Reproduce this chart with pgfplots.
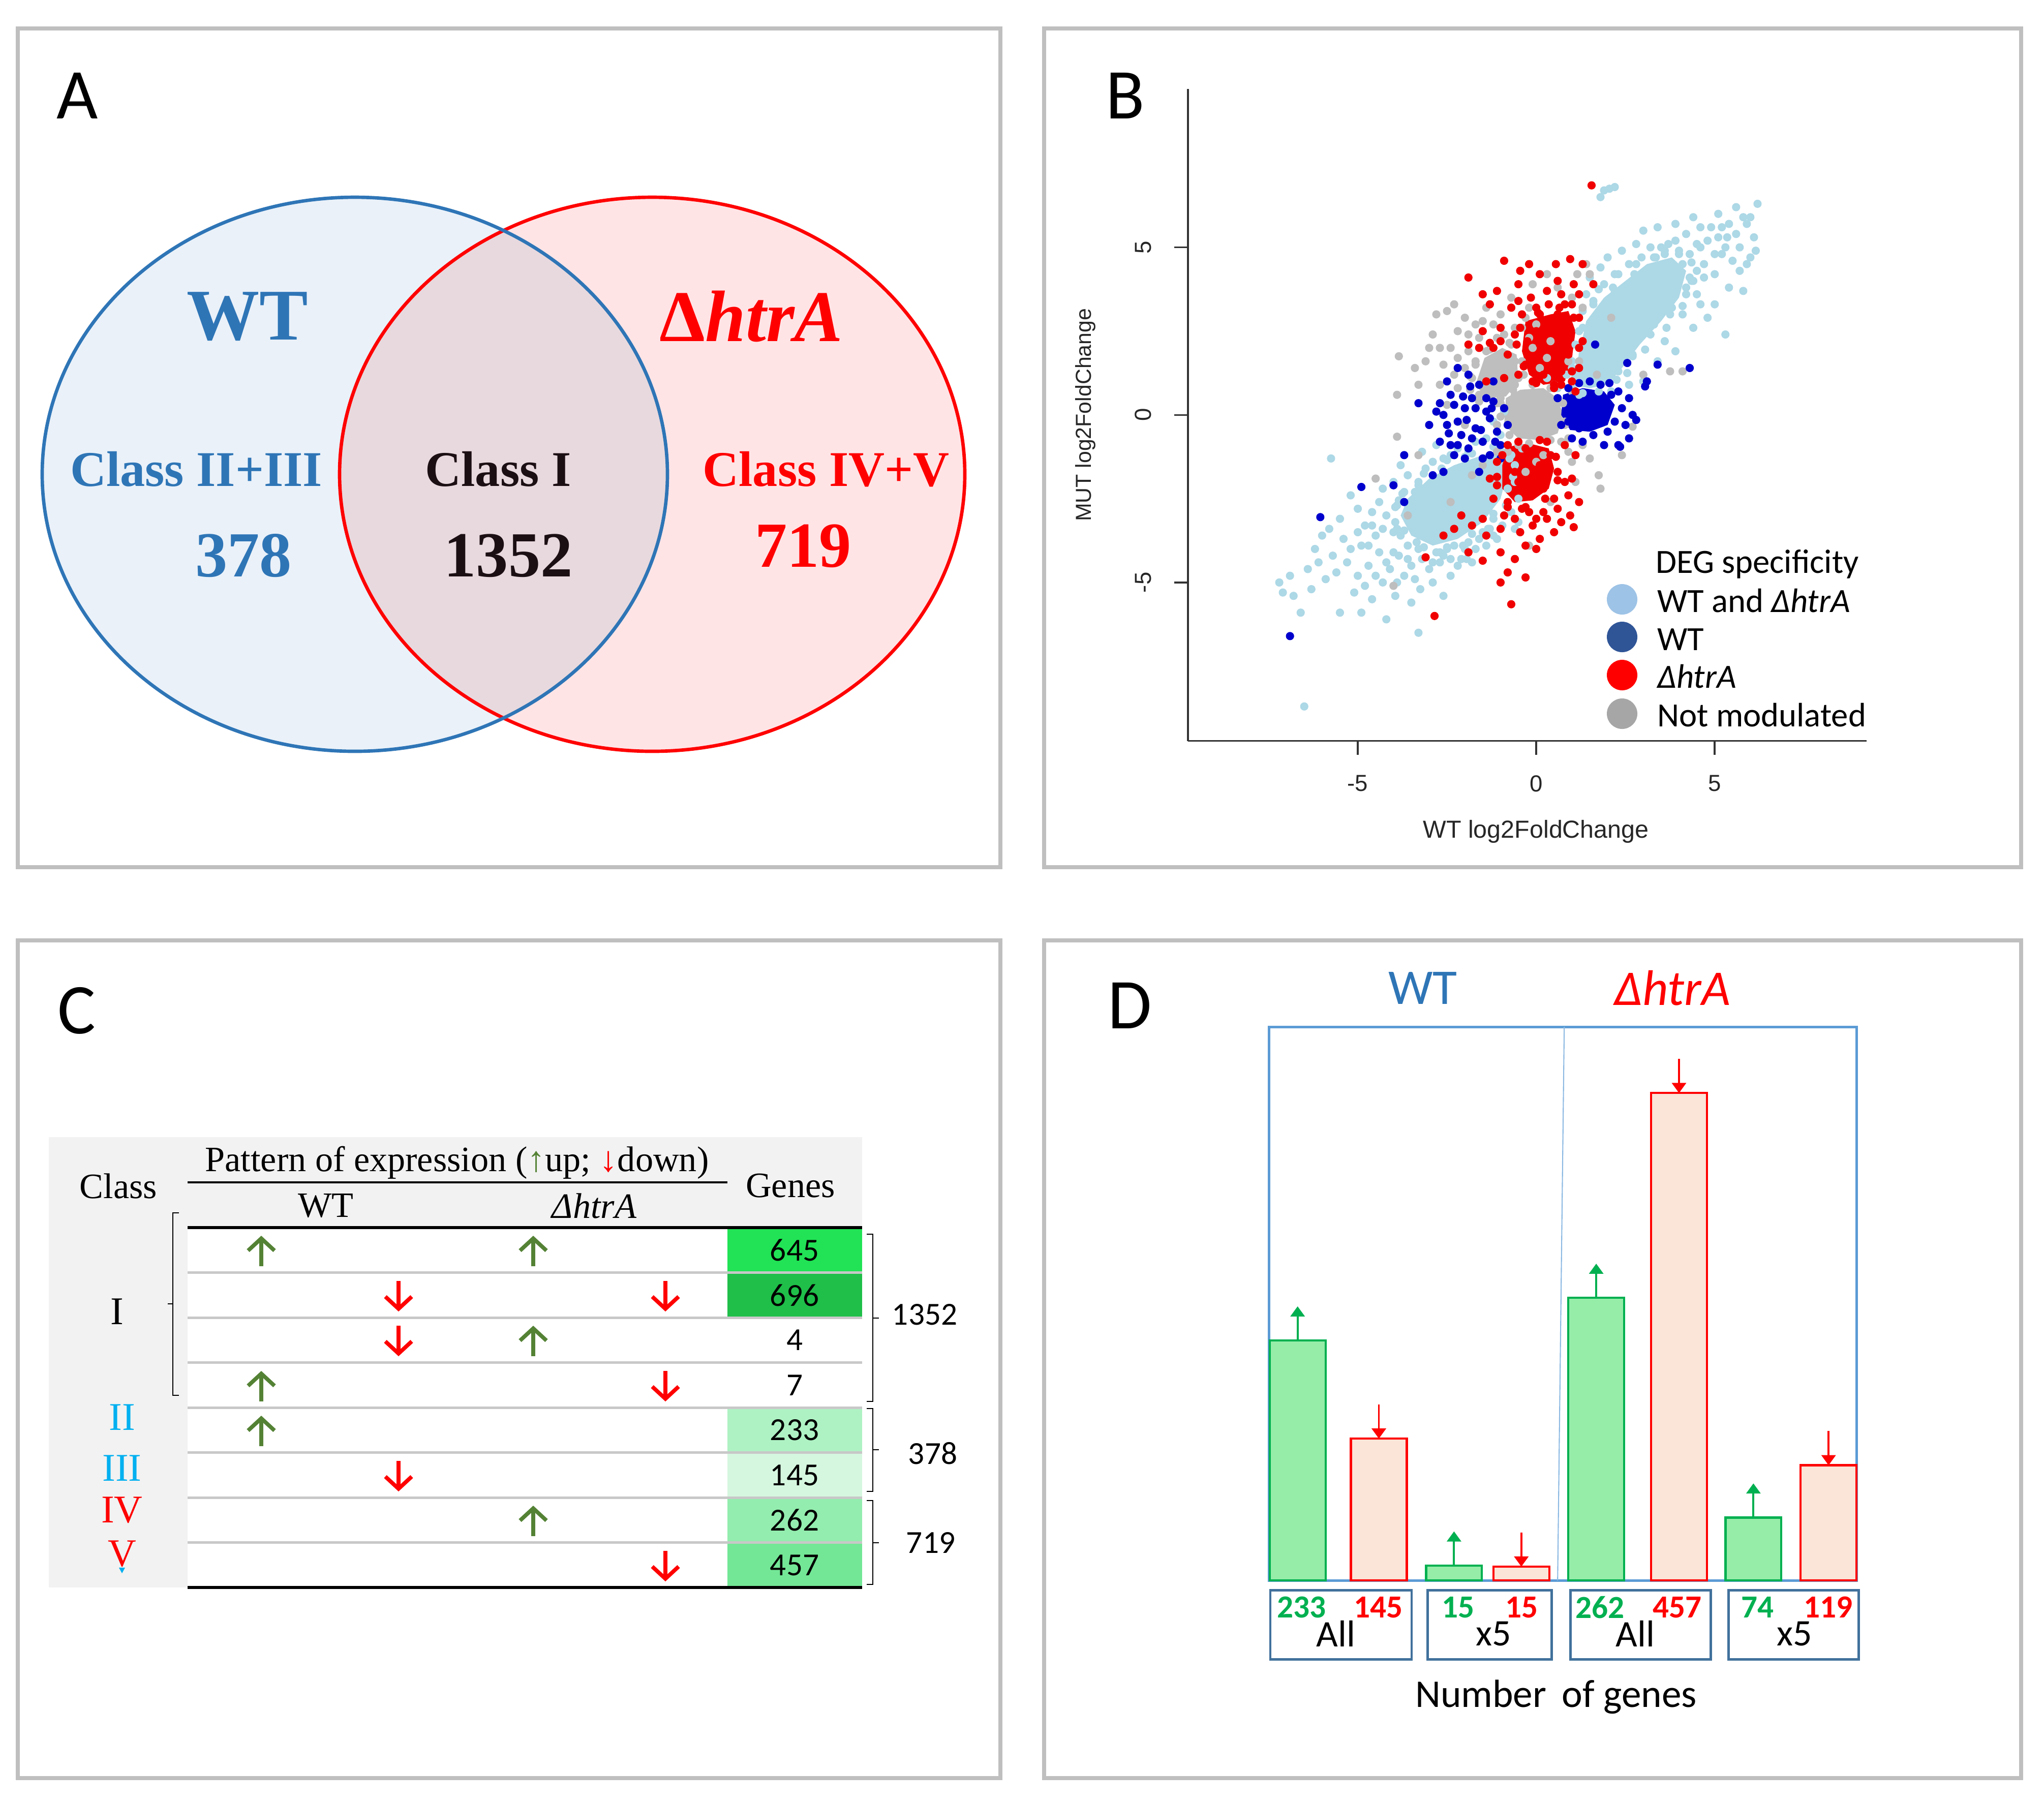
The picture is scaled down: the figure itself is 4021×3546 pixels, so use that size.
\documentclass[border=0pt]{standalone}
\usepackage{fontspec}
\setmainfont{Carlito}
\newfontfamily\timesf{Liberation Serif}
\newfontfamily\arialf{Liberation Sans}
\usepackage{pgfplots}
\pgfplotsset{compat=1.18}
\usetikzlibrary{arrows.meta}
\newcommand\fs[1]{\fontsize{#1pt}{#1pt}\selectfont}

\definecolor{frame}{HTML}{BFBFBF}
\definecolor{vblue}{HTML}{2E75B6}
\definecolor{vbluefill}{HTML}{EAF1F9}
\definecolor{vpinkfill}{HTML}{FFE4E6}
\definecolor{vmix}{HTML}{E8D9DE}
\definecolor{vdark}{HTML}{1C0F14}
\definecolor{hdr}{HTML}{F2F2F2}
\definecolor{sep}{HTML}{C8C8C8}
\definecolor{upg}{HTML}{548235}
\definecolor{cls}{HTML}{00B0F0}
\definecolor{gA}{HTML}{21E355}
\definecolor{gB}{HTML}{1FBF49}
\definecolor{gC}{HTML}{AEF2C3}
\definecolor{gD}{HTML}{D5F7DF}
\definecolor{gE}{HTML}{93EDAE}
\definecolor{gF}{HTML}{73E796}
\definecolor{barg}{HTML}{95EDA8}
\definecolor{bargl}{HTML}{00B050}
\definecolor{barr}{HTML}{FBE4D8}
\definecolor{dframe}{HTML}{5B9BD5}
\definecolor{dbox}{HTML}{41719C}
\definecolor{lb}{HTML}{ADD8E6}
\definecolor{mb}{HTML}{0000CD}
\definecolor{gy}{HTML}{BEBEBE}
\definecolor{rd}{HTML}{F00000}
\definecolor{lgA}{HTML}{9DC3E6}
\definecolor{lgB}{HTML}{2F5597}
\definecolor{lgD}{HTML}{A6A6A6}

\begin{document}
\begin{tikzpicture}[x=0.005cm,y=-0.005cm]
\path[use as bounding box] (0,0) rectangle (4021,3546);

% panel frames
\draw[frame, line width=1.15pt] (35,56) rectangle (1968,1706);
\draw[frame, line width=1.15pt] (2054,56) rectangle (3976,1706);
\draw[frame, line width=1.15pt] (35,1850) rectangle (1968,3498);
\draw[frame, line width=1.15pt] (2054,1850) rectangle (3976,3498);
\node[font=\fs{20}] at (152,188) {A};
\node[font=\fs{20}] at (2214,188) {B};
\node[font=\fs{20}] at (151,1988) {C};
\node[font=\fs{20}] at (2223,1978) {D};

% ---------------- A: Venn
\fill[vbluefill] (698,933) ellipse [x radius=615, y radius=545];
\fill[vpinkfill] (1283,933) ellipse [x radius=615, y radius=545];
\begin{scope}
  \clip (698,933) ellipse [x radius=615, y radius=545];
  \fill[vmix] (1283,933) ellipse [x radius=615, y radius=545];
\end{scope}
\draw[red, line width=0.95pt] (1283,933) ellipse [x radius=615, y radius=545];
\draw[vblue, line width=0.95pt] (698,933) ellipse [x radius=615, y radius=545];
\node[vblue, font=\timesf\bfseries\fs{20.4}] at (487,623) {WT};
\node[red, font=\timesf\bfseries\fs{20.4}] at (1478,622) {Δ\itshape htrA};
\node[vblue, font=\timesf\bfseries\fs{14}] at (386,923) {Class II+III};
\node[vblue, font=\timesf\bfseries\fs{18}] at (479,1093) {378};
\node[vdark, font=\timesf\bfseries\fs{14}] at (980,923) {Class I};
\node[vdark, font=\timesf\bfseries\fs{18}] at (1000,1093) {1352};
\node[red, font=\timesf\bfseries\fs{14}] at (1625,923) {Class IV+V};
\node[red, font=\timesf\bfseries\fs{18}] at (1580,1074) {719};

% ---------------- C: table
\fill[hdr] (96,2237) rectangle (1696,2415);
\fill[hdr] (96,2415) rectangle (369,3123);
\fill[gA] (1431,2415) rectangle (1696,2503.5);
\fill[gB] (1431,2503.5) rectangle (1696,2592);
\fill[gC] (1431,2769) rectangle (1696,2857.5);
\fill[gD] (1431,2857.5) rectangle (1696,2946);
\fill[gE] (1431,2946) rectangle (1696,3034.5);
\fill[gF] (1431,3034.5) rectangle (1696,3123);
\foreach \yy in {2503.5,2592,2680.5,2769,2857.5,2946,3034.5}
  \draw[sep, line width=0.7pt] (369,\yy) -- (1696,\yy);
\draw[line width=0.85pt] (369,2415) -- (1696,2415);
\draw[line width=0.85pt] (369,3123) -- (1696,3123);
\draw[line width=0.45pt] (369,2326) -- (1431,2326);
\node[font=\timesf\fs{10}] at (233,2333) {Class};
\node[font=\timesf\fs{10}] at (899,2287) {Pattern of expression ({\color{upg}↑}up; {\color{red}↓}down)};
\node[font=\timesf\fs{10}] at (641,2372) {WT};
\node[font=\timesf\itshape\fs{10}] at (1169,2372) {ΔhtrA};
\node[font=\timesf\fs{10}] at (1555,2333) {Genes};
\tikzset{upar/.style={upg, line width=1.1pt, -{Straight Barb[length=0.12cm, width=0.26cm]}},
         dnar/.style={red, line width=1.1pt, -{Straight Barb[length=0.12cm, width=0.26cm]}}}
\newcommand\up[2]{\draw[upar] (#1,#2+30) -- (#1,#2-30);}
\newcommand\dn[2]{\draw[dnar] (#1,#2-30) -- (#1,#2+30);}
\up{514}{2461}\up{1049}{2461}
\dn{784}{2550}\dn{1309}{2550}
\dn{784}{2638}\up{1049}{2638}
\up{514}{2727}\dn{1309}{2727}
\up{514}{2815}
\dn{784}{2904}
\up{1049}{2992}
\dn{1309}{3081}
\foreach \v/\yy in {645/2459,696/2548,4/2636,7/2725,233/2813,145/2902,262/2990,457/3079}
  \node[font=\fs{9}] at (1563,\yy) {\v};
\node[font=\timesf\fs{11}] at (230,2580) {I};
\node[cls, font=\timesf\fs{11}] at (240,2788) {II};
\node[cls, font=\timesf\fs{11}] at (240,2888) {III};
\node[red, font=\timesf\fs{11}] at (240,2971) {IV};
\node[red, font=\timesf\fs{11}] at (240,3057) {V};
\fill[cls] (234,3084) -- (246,3084) -- (240,3095) -- cycle;
\draw[line width=0.4pt] (352,2386) -- (340,2386) -- (340,2745) -- (352,2745);
\draw[line width=0.4pt] (340,2565) -- (330,2565);
\draw[line width=0.4pt] (1705,2428) -- (1717,2428) -- (1717,2757) -- (1705,2757);
\draw[line width=0.4pt] (1717,2593) -- (1729,2593);
\draw[line width=0.4pt] (1705,2771) -- (1717,2771) -- (1717,2934) -- (1705,2934);
\draw[line width=0.4pt] (1717,2852) -- (1729,2852);
\draw[line width=0.4pt] (1705,2952) -- (1717,2952) -- (1717,3117) -- (1705,3117);
\draw[line width=0.4pt] (1717,3035) -- (1729,3035);
\node[font=\fs{9}] at (1819,2586) {1352};
\node[font=\fs{9}] at (1835,2859) {378};
\node[font=\fs{9}] at (1831,3035) {719};

% legend of B
\node[anchor=west, inner sep=0, font=\fs{9.5}] at (3256,1110) {DEG specificity};
\fill[lgA] (3191,1179) circle [radius=30];
\fill[lgB] (3191,1253) circle [radius=30];
\fill[red] (3191,1328) circle [radius=30];
\fill[lgD] (3191,1404) circle [radius=30];
\node[anchor=west, inner sep=0, font=\fs{9.5}] at (3259,1182) {WT and \textit{ΔhtrA}};
\node[anchor=west, inner sep=0, font=\fs{9.5}] at (3259,1258) {WT};
\node[anchor=west, inner sep=0, font=\fs{9.5}] at (3259,1331) {\textit{ΔhtrA}};
\node[anchor=west, inner sep=0, font=\fs{9.5}] at (3259,1407) {Not modulated};

% D texts and boxes
\node[vblue, font=\fs{14}] at (2799,1944) {WT};
\node[red, font=\itshape\fs{14}] at (3290,1944) {ΔhtrA};
\foreach \a/\b in {2499/2777, 2808/3052, 3089/3365, 3400/3656}
  \draw[dbox, line width=0.7pt] (\a,3128) rectangle (\b,3264);
\tikzset{gnum/.style={bargl, font=\bfseries\fs{9}, inner sep=0, anchor=west},
         rnum/.style={red, font=\bfseries\fs{9}, inner sep=0, anchor=east}}
\node[gnum] at (2511,3162) {233}; \node[rnum] at (2761,3162) {145};
\node[gnum] at (2835,3162) {15};  \node[rnum] at (3027,3162) {15};
\node[gnum] at (3098,3162) {262}; \node[rnum] at (3349,3162) {457};
\node[gnum] at (3424,3162) {74};  \node[rnum] at (3646,3162) {119};
\node[font=\fs{10.5}] at (2628,3214) {All};
\node[font=\fs{10.5}] at (2938,3214) {x5};
\node[font=\fs{10.5}] at (3217,3214) {All};
\node[font=\fs{10.5}] at (3530,3214) {x5};
\node[font=\fs{11}] at (3061,3338) {Number\, of genes};

\begin{scope}[x=1cm,y=1cm]
% ---------------- B: scatter
\begin{axis}[at={(11.695cm,-7.295cm)}, anchor=south west, scale only axis,
  width=6.68cm, height=6.42cm,
  xmin=-9.76, xmax=9.25, ymin=-9.73, ymax=9.73,
  axis x line*=bottom, axis y line*=left,
  axis line style={black!80, line width=0.5pt, -},
  xtick={-5,0,5}, ytick={-5,0,5},
  xticklabels={-5,0,5}, yticklabels={-5,0,5},
  tick align=outside, major tick length=0.135cm,
  tick style={black!80, line width=0.5pt},
  ticklabel style={font=\arialf\fs{6.5}, text=black!85},
  xticklabel style={anchor=north}, xticklabel shift=0.08cm,
  yticklabel style={rotate=90, anchor=south}, yticklabel shift=0.1cm,
  xlabel={WT log2FoldChange}, ylabel={MUT log2FoldChange},
  xlabel style={at={(axis description cs:0.513,-0.1386)}, anchor=center, font=\arialf\fs{6.9}, text=black!85},
  ylabel style={at={(axis description cs:-0.1512,0.5)}, anchor=center, font=\arialf\fs{6.1}, text=black!85},
  dots/.style={only marks, mark=*, mark size=0.95pt, mark options={draw=#1, fill=#1}},
  core/.style={draw=none, fill=#1, mark=none}]
% ---- WT and htrA (light blue)
\addplot[core=lb] coordinates {(-3.6,-2.5)(-3.0,-1.9)(-2.3,-1.5)(-1.5,-1.2)(-0.9,-1.0)(-0.8,-1.7)(-1.0,-2.5)(-1.5,-3.2)(-2.2,-3.7)(-2.9,-3.9)(-3.5,-3.6)(-3.8,-3.0)} -- cycle;
\addplot[core=lb] coordinates {(0.9,0.9)(1.2,1.8)(1.4,2.8)(1.9,3.5)(2.5,4.0)(3.1,4.5)(3.8,4.7)(4.2,4.3)(4.0,3.5)(3.5,2.8)(2.9,2.1)(2.4,1.4)(2.0,0.9)(1.5,0.8)} -- cycle;
\addplot[dots=lb] coordinates {
(-7.2,-5.0)(-7.1,-5.3)(-6.8,-5.4)(-6.5,-8.7)(-6.4,-4.6)(-6.2,-4.0)(-5.9,-4.9)(-5.75,-1.3)(-5.7,-4.2)(-5.5,-5.9)
(-5.4,-3.7)(-5.3,-4.4)(-5.1,-5.3)(-5.0,-4.8)(-4.9,-3.9)(-4.8,-3.3)(-4.7,-4.5)(-4.6,-5.5)(-4.5,-3.6)(-4.4,-4.1)
(-4.3,-5.0)(-4.2,-3.0)(-4.1,-4.6)(-4.0,-3.5)(-3.95,-5.4)(-3.9,-2.7)(-3.85,-4.2)(-3.7,-4.8)(-3.6,-3.9)(-3.5,-4.5)
(-3.4,-2.3)(-3.3,-6.5)(-3.25,-5.2)(-3.2,-4.3)(-3.1,-1.6)(-3.0,-4.6)(-2.9,-5.0)(-2.8,-4.1)(-2.7,-4.4)(-2.6,-1.3)
(-2.5,-4.0)(-2.4,-4.8)(-2.3,-3.9)(-2.2,-1.0)(-2.1,-4.3)(-2.0,-4.0)(-1.9,-3.8)(-1.8,-4.4)(-1.7,-0.8)(-1.6,-3.7)
(-1.5,-3.5)(-1.4,-0.7)(-1.3,-3.4)(-1.2,-3.1)(-1.1,-3.7)(-1.0,-0.6)(-0.9,-3.0)(-0.7,-2.9)(-0.6,-3.4)(-0.5,-3.2)
(-4.4,-2.6)(-4.0,-2.0)(-3.8,-1.5)(-3.7,-2.3)(-3.2,-1.1)(-2.8,-0.9)(-5.2,-2.4)(-4.6,-2.9)(-4.2,-6.1)(-3.5,-5.6)
(-2.6,-5.4)(-4.9,-5.9)(-6.0,-3.6)(-3.9,-3.4)(-3.3,-3.0)(-3.0,-2.5)(-2.5,-2.0)(-2.0,-1.6)(-1.5,-1.4)(-1.2,-2.0)
(-0.8,-2.2)(-1.0,-1.3)(-0.6,-1.5)(-2.2,-2.7)(-2.7,-3.3)(-1.8,-3.0)(-1.3,-2.6)(-0.4,-1.0)(0.3,1.1)(0.6,0.8)
(-1.2,-0.2)(-0.9,0.1)(1.0,1.4)
(-6.9,-4.8)(-6.6,-5.9)(-6.3,-5.2)(-6.1,-4.4)(-5.8,-3.4)(-5.6,-4.7)(-5.5,-3.1)(-5.2,-4.0)(-5.0,-3.5)(-4.8,-5.1)
(-4.7,-3.9)(-4.5,-4.8)(-4.3,-3.4)(-4.2,-4.4)(-4.0,-4.1)(-3.9,-5.0)(-3.8,-3.6)(-3.6,-4.3)(-3.4,-4.9)(-3.3,-4.0)
(-3.1,-3.6)(-2.9,-4.4)(-2.6,-4.2)(-2.4,-4.3)(-2.2,-4.5)(-1.95,-4.3)(-1.7,-4.0)(-1.4,-3.9)(-1.2,-3.6)(-0.95,-3.3)
(-4.3,-2.2)(-4.6,-3.3)(-5.0,-2.8)(-3.6,-1.8)(-2.9,-1.4)(-2.4,-1.2)(-1.9,-1.1)(-3.3,-2.0)(-0.7,-1.2)(-0.5,-2.5)(-0.6,-2.0)
(-3.75,-2.35)(-3.3,-2.1)(-3.15,-1.75)(-2.65,-1.6)(-2.5,-1.35)(-2.0,-1.25)(-1.8,-1.15)(-1.2,-0.95)(-0.75,-1.3)(-0.65,-1.85)
(-0.8,-2.2)(-0.85,-2.7)(-1.2,-2.95)(-1.35,-3.4)(-1.8,-3.55)(-2.05,-3.9)(-2.5,-3.95)(-2.7,-4.1)(-3.15,-3.95)(-3.35,-3.8)
(-3.7,-3.45)(-3.95,-3.2)(-3.95,-2.75)(-3.85,-2.55)
(1.1,1.1)(1.2,0.6)(1.4,3.6)(1.5,4.1)(1.7,3.0)(1.8,4.4)(2.0,4.7)(2.1,2.6)(2.2,4.2)(2.3,1.3)
(2.4,4.9)(2.5,3.4)(2.6,4.5)(2.7,1.8)(2.8,5.1)(2.9,4.0)(3.0,5.5)(3.1,2.6)(3.2,5.0)(3.3,3.5)
(3.4,5.6)(3.5,4.3)(3.6,2.2)(3.7,5.1)(3.8,3.8)(3.9,5.7)(4.0,4.9)(4.1,3.0)(4.2,5.4)(4.3,4.1)
(4.4,5.9)(4.5,3.6)(4.6,5.0)(4.7,4.5)(4.8,2.9)(4.9,5.6)(5.0,4.2)(5.1,6.0)(5.2,4.8)(5.3,2.4)
(5.35,5.3)(5.4,3.8)(5.5,4.6)(5.6,6.2)(5.7,5.0)(5.8,3.7)(5.9,5.7)(6.0,4.7)(6.1,5.3)(6.2,6.3)
(6.15,4.9)(4.4,2.6)(3.4,1.6)(3.0,1.0)(2.6,0.9)(3.9,1.9)(4.6,3.3)(5.0,3.3)(4.3,4.8)(3.6,4.8)
(2.7,3.8)(3.0,3.0)(3.8,3.2)(1.9,6.7)(2.2,6.8)(1.8,6.5)(2.05,6.75)(1.6,2.5)(1.3,1.8)(2.0,1.6)
(2.5,2.2)(3.3,2.7)(4.0,4.0)(4.5,4.3)(5.2,5.6)(3.3,4.7)
(1.3,2.6)(1.6,3.4)(1.9,3.9)(2.2,3.7)(2.4,2.6)(2.7,2.9)(2.9,3.4)(3.2,3.9)(3.4,4.1)(3.6,3.6)
(3.9,4.3)(4.1,4.5)(4.2,3.8)(4.4,4.0)(4.5,5.1)(4.7,4.1)(4.8,5.2)(5.0,4.8)(5.1,5.3)(5.3,5.0)
(5.4,5.7)(5.6,5.4)(5.8,5.9)(6.0,5.9)(5.7,4.3)(5.9,4.5)(3.1,3.3)(2.6,2.0)(2.2,1.9)(1.8,1.4)
(3.5,5.0)(3.9,5.2)(4.6,5.6)(2.8,4.5)(2.3,3.1)(1.5,1.4)(1.9,2.7)
(0.85,1.2)(1.0,1.6)(1.1,2.1)(1.2,2.5)(1.3,3.1)(1.6,3.3)(1.75,3.75)(2.15,3.8)(2.3,4.2)(2.75,4.2)
(2.95,4.7)(3.35,4.7)(3.6,4.9)(4.0,4.8)(4.35,4.55)(4.35,4.0)(4.2,3.6)(4.1,3.25)(3.75,3.0)(3.65,2.6)
(3.2,2.4)(3.05,1.95)(2.7,1.75)(2.55,1.25)(2.25,1.05)(2.1,0.7)(1.75,0.7)(1.3,0.65)(1.05,0.75)};
% ---- not modulated (grey)
\addplot[core=gy] coordinates {(-0.85,0.5)(-0.45,0.75)(0.2,0.8)(0.6,0.5)(0.75,0.0)(0.6,-0.55)(0.1,-0.75)(-0.5,-0.7)(-0.9,-0.3)} -- cycle;
\addplot[core=gy] coordinates {(-1.7,0.9)(-1.45,1.7)(-0.95,2.0)(-0.55,1.8)(-0.5,1.0)(-0.85,0.55)(-1.4,0.5)} -- cycle;
\addplot[dots=gy] coordinates {
(-3.85,1.75)(-3.9,0.6)(-3.9,-0.65)(-3.3,0.9)(-3.0,2.0)(-2.8,3.0)(-2.3,3.3)(-2.2,2.5)(-2.6,1.5)(-2.0,2.9)
(-1.8,1.1)(-1.6,2.3)(-1.4,3.2)(-1.2,2.7)(-1.1,1.5)(-0.9,2.4)(-0.7,3.5)(-0.5,1.1)(-0.3,2.9)(-0.1,3.9)
(0.3,4.2)(0.6,3.8)(1.0,3.5)(1.15,4.2)(1.4,4.5)(1.2,1.6)(0.5,0.9)(-0.5,-0.9)(0.2,-1.2)(0.7,-0.8)
(1.0,-1.4)(1.1,-2.0)(1.75,-1.8)(1.8,-2.2)(2.7,-0.35)(3.0,1.2)(3.75,1.3)(4.1,1.3)(-0.2,-3.9)(-1.5,-1.5)
(-2.0,-0.3)(-2.5,0.3)(-3.3,-1.2)(-4.0,-5.1)(-0.9,0.7)(-1.3,0.9)(-0.4,0.2)(0.4,-0.3)(-2.2,0.8)(-2.9,2.4)
(-1.9,1.9)(-1.0,3.0)(-0.2,2.3)(0.1,1.4)(-0.6,1.6)(-1.6,0.4)(-2.4,2.0)(-1.7,2.7)(-2.5,3.1)(-1.2,1.2)
(-0.8,1.3)(-1.4,1.9)(-2.0,1.4)(-0.6,2.6)(0.0,2.7)(-2.7,0.9)(-3.4,1.4)(0.9,-1.1)(1.3,-0.9)(-1.1,-0.3)
(-0.8,-1.1)(-3.6,-3.0)(-2.4,-2.6)(-4.5,-1.9)(2.4,-1.2)(1.5,-1.3)(-0.3,-1.7)(0.4,-2.6)(-1.8,-1.8)(2.1,2.9)(1.7,1.2)
(-1.3,0.6)(-1.0,0.5)(-0.9,1.6)(-1.1,2.3)(-1.5,2.8)(-1.9,2.4)(-2.2,1.7)(-1.7,1.5)(-0.7,2.1)(-0.4,2.6)
(-0.1,2.0)(0.3,1.7)(-0.2,3.2)(0.4,2.2)(1.5,4.2)(1.3,3.2)(-2.7,2.0)(-2.3,1.2)(-3.1,1.6)(-1.1,-1.1)
(0.0,-1.4)(0.9,-0.7)(1.0,0.7)(0.8,-0.2)(-0.6,0.9)(0.9,1.6)
(-1.0,0.35)(-0.65,0.75)(-0.1,0.9)(0.4,0.8)(0.75,0.35)(0.8,-0.3)(0.4,-0.75)(-0.2,-0.85)(-0.75,-0.6)(-1.0,-0.05)
(-1.85,1.15)(-1.7,1.6)(-1.3,1.95)(-0.75,2.15)(-0.4,1.6)(-0.35,1.2)(-0.6,0.6)(-1.1,0.35)(-1.6,0.6)(-1.85,0.75)};
% ---- WT only (blue)
\addplot[core=mb] coordinates {(0.75,0.6)(1.3,0.8)(1.9,0.7)(2.2,0.3)(2.0,-0.3)(1.5,-0.5)(0.95,-0.45)(0.7,0.0)} -- cycle;
\addplot[dots=mb] coordinates {
(0.6,0.5)(0.7,-0.3)(0.9,0.8)(1.0,-0.7)(1.2,0.95)(1.3,-0.8)(1.5,1.0)(1.6,-0.6)(1.8,0.9)(2.0,-0.5)
(2.1,0.6)(2.3,-0.9)(2.4,0.2)(2.5,-0.3)(2.2,-0.2)(1.4,0.3)(1.7,0.1)(1.1,0.2)(0.9,-0.2)(2.6,0.5)
(1.9,-0.9)(2.05,0.95)(1.65,2.1)(2.55,1.55)(3.05,0.85)(3.4,1.5)(4.3,1.4)(2.8,-0.15)(2.35,-0.95)(1.0,0.5)
(1.5,-0.2)(1.8,0.4)(2.7,0.0)(2.3,0.7)(1.2,-0.4)(2.6,-0.7)(3.1,1.0)(2.0,0.2)
(-2.8,0.1)(-2.7,-0.8)(-2.5,-0.3)(-2.4,0.6)(-2.3,-1.2)(-2.2,1.4)(-2.1,-0.6)(-2.0,0.2)(-1.9,-1.0)(-1.8,0.5)
(-1.7,-0.4)(-1.6,0.9)(-1.5,-0.8)(-1.4,0.1)(-1.3,-1.2)(-1.2,0.4)(-1.1,-0.5)(-1.0,-0.9)(-0.9,0.2)(-0.8,-0.3)
(-3.3,0.35)(-1.9,1.2)(-2.6,-1.7)(-2.9,-1.8)(-3.7,-2.6)(-3.7,-1.2)(-4.0,-2.1)(-4.9,-2.15)(-6.05,-3.05)(-6.9,-6.6)
(-1.5,-1.3)(-2.0,-1.3)(-1.2,1.0)(-2.5,1.0)(-3.0,-0.3)(-1.6,-1.7)(-2.2,-0.2)(-1.8,-0.7)(-2.4,-0.9)(-1.3,-0.1)
(-2.05,0.55)(-2.7,0.35)(-1.0,-1.3)(-1.7,0.2)
(-2.6,0.0)(-2.3,0.3)(-1.95,-0.15)(-1.55,-0.45)(-1.4,0.5)(-1.15,-0.8)(-2.2,-0.9)(-2.45,-0.55)(-1.85,0.85)(-1.25,0.2)};
% ---- htrA only (red)
\addplot[core=rd] coordinates {(-0.3,2.8)(0.4,3.0)(0.9,3.1)(1.1,2.5)(1.0,1.7)(0.8,1.0)(0.2,0.9)(-0.2,1.2)(-0.4,1.9)} -- cycle;
\addplot[core=rd] coordinates {(-0.8,-0.95)(-0.2,-0.85)(0.35,-1.0)(0.5,-1.6)(0.35,-2.2)(-0.1,-2.55)(-0.6,-2.6)(-0.95,-2.2)(-0.95,-1.5)} -- cycle;
\addplot[dots=rd] coordinates {
(-1.9,4.1)(-1.5,3.6)(-1.3,3.3)(-0.9,4.6)(-0.5,3.9)(-0.2,4.5)(0.1,4.2)(0.3,3.7)(0.6,4.0)(0.95,4.65)
(1.3,4.5)(1.6,3.9)(1.2,3.6)(0.8,3.3)(-0.7,3.2)(-0.4,3.0)(0.0,3.2)(-1.0,2.6)(-0.6,2.4)(-1.2,2.0)
(-0.8,1.8)(-0.3,1.5)(0.1,2.1)(0.5,2.5)(1.2,2.9)(1.3,2.2)(1.2,1.4)(1.0,1.0)(0.5,0.9)(-0.5,1.2)
(0.2,1.2)(0.6,1.6)(-1.6,2.0)(-1.4,1.0)(1.55,6.85)(0.7,0.9)(1.1,0.7)(-0.1,1.0)(-0.25,2.2)(0.35,3.3)
(0.9,2.6)(-0.15,3.5)(0.7,3.6)(-1.5,2.5)(-0.9,1.1)(0.45,1.9)(1.05,3.9)(-0.45,4.3)(0.55,4.5)(-1.1,3.7)
(0.0,2.5)(0.3,2.7)(0.6,2.0)(0.8,2.3)(0.7,1.3)(0.9,1.8)(-0.1,1.7)(0.4,1.4)(0.1,3.0)(0.6,3.0)(1.0,3.3)(-0.5,3.4)
(-0.45,2.6)(0.05,3.05)(0.65,3.2)(1.05,2.9)(1.2,2.0)(1.0,1.3)(0.5,0.8)(0.0,0.95)(-0.35,1.45)(-0.55,2.1)
(-1.9,2.1)(-1.3,2.15)(-1.0,2.2)
(-1.5,-3.1)(-1.0,-4.1)(-0.8,-4.7)(-1.0,-5.0)(-0.3,-4.85)(-0.7,-5.65)(-2.85,-6.0)(-3.1,-4.25)(-2.6,-3.6)(-1.9,-4.1)
(-1.5,-4.35)(1.05,-3.35)(0.95,-3.0)(-0.45,-3.5)(-0.1,-3.3)(0.3,-3.1)(0.6,-2.8)(0.9,-2.4)(1.0,-1.9)(1.1,-1.2)
(-1.2,-2.5)(-1.3,-1.9)(-1.1,-1.4)(-0.2,-2.9)(-0.6,-3.1)(0.5,-3.5)(0.1,-3.7)(-1.8,-3.3)(-2.1,-3.0)(0.8,-0.9)
(-0.8,-0.9)(0.3,-0.8)(-0.3,-1.0)(0.2,-2.2)(-0.5,-2.0)(0.6,-1.7)(-1.0,-3.4)(-0.3,-3.9)(0.7,-3.2)(-1.4,-3.6)
(-0.6,-4.3)(0.0,-4.0)(-2.3,-3.4)(1.2,-2.6)
(-0.4,-1.3)(0.1,-1.5)(0.4,-1.2)(-0.6,-1.7)(0.3,-1.9)(-0.2,-2.4)(0.5,-2.5)(-0.8,-2.6)(-0.9,-3.0)(0.2,-2.9)
(0.8,-2.0)(-1.1,-2.1)(0.0,-3.1)(-0.4,-2.8)
(-0.95,-1.2)(-0.5,-0.8)(0.1,-0.75)(0.55,-1.25)(0.6,-1.95)(0.25,-2.5)(-0.3,-2.75)(-0.8,-2.75)(-1.1,-1.85)};
\end{axis}

% ---------------- D: bars
\begin{axis}[at={(12.495cm,-15.56cm)}, anchor=south west, scale only axis,
  width=5.785cm, height=5.45cm,
  xmin=0, xmax=1157, ymin=0, ymax=519,
  xtick=\empty, ytick=\empty,
  axis line style={dframe, line width=0.7pt}, clip=false]
\draw[dframe!70, line width=0.3pt] (axis cs:568,0) -- (axis cs:581,519);
\addplot[ybar, bar width=110, bar shift=0pt, draw=bargl, fill=barg, line width=0.6pt]
  coordinates {(56,225) (364,14) (644,265) (953.5,59)};
\addplot[ybar, bar width=110, bar shift=0pt, draw=red, fill=barr, line width=0.6pt]
  coordinates {(216,133) (496.5,13) (807,457) (1101.5,108)};
\addplot[bargl, line width=0.55pt, -{Triangle[length=0.1cm, width=0.14cm]}, quiver={u=0, v=32}]
  coordinates {(56,225) (364,14) (644,265) (953.5,59)};
\addplot[red, line width=0.55pt, -{Triangle[length=0.1cm, width=0.14cm]}, quiver={u=0, v=-32}]
  coordinates {(216,165) (496.5,45) (807,489) (1101.5,140)};
\end{axis}
\end{scope}
\end{tikzpicture}
\end{document}
